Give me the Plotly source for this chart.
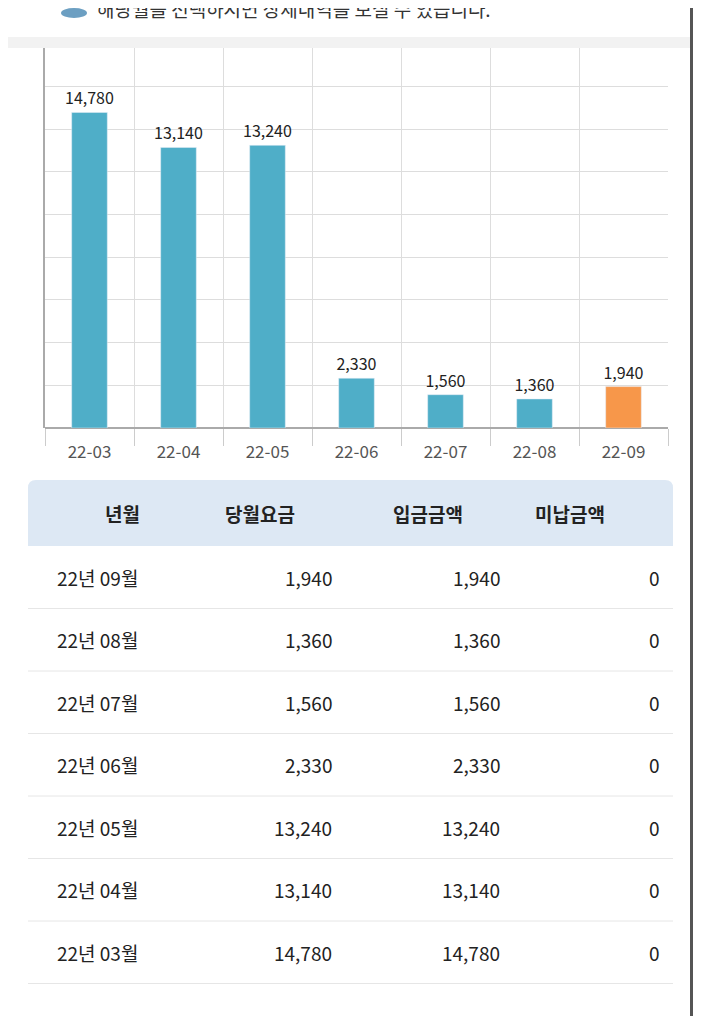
import plotly.graph_objects as go

months = ["22-03", "22-04", "22-05", "22-06", "22-07", "22-08", "22-09"]
charges = [14780, 13140, 13240, 2330, 1560, 1360, 1940]
bar_colors = ["#4faec8"] * 6 + ["#f7974a"]

headers = ["년월", "당월요금", "입금금액", "미납금액"]
row_months = ["22년 09월", "22년 08월", "22년 07월", "22년 06월", "22년 05월", "22년 04월", "22년 03월"]
row_charge = ["1,940", "1,360", "1,560", "2,330", "13,240", "13,140", "14,780"]
row_paid = ["1,940", "1,360", "1,560", "2,330", "13,240", "13,140", "14,780"]
row_unpaid = ["0", "0", "0", "0", "0", "0", "0"]

OFF = 8
W, H = 701 - 2 * OFF, 1024 - 2 * OFF
def px(x): return (x - OFF) / W
def py(y): return 1 - (y - OFF) / H

FONT = "Noto Sans CJK KR"
fig = go.Figure()
fig.add_trace(go.Bar(x=list(range(len(months))), y=charges, marker_color=bar_colors,
                     width=0.4, text=[f"{v:,}" for v in charges], textposition="outside",
                     constraintext="none",
                     textfont=dict(size=16, color="#222"), cliponaxis=False))
fig.add_trace(go.Scatter(x=[-0.5, 6.5], y=[0, 0], xaxis="x2", mode="lines",
                         line=dict(width=0), hoverinfo="skip", showlegend=False))

fig.update_layout(
    width=W, height=H, margin=dict(l=0, r=0, t=0, b=0), showlegend=False,
    paper_bgcolor="white", plot_bgcolor="white", font=dict(family=FONT),
    xaxis=dict(domain=[px(45), px(668)], range=[-0.5, 6.5], tickvals=list(range(7)),
               ticktext=months, showgrid=False, ticks="", tickfont=dict(size=17, color="#555"),
               ticklabelstandoff=12, anchor="y"),
    xaxis2=dict(domain=[px(45), px(668)], range=[-0.5, 6.5], overlaying="x", anchor="y",
                tickvals=[i - 0.5 for i in range(8)], showticklabels=False, showgrid=True,
                gridcolor="#dddddd", ticks="outside", ticklen=17, tickcolor="#cccccc", zeroline=False),
    yaxis=dict(domain=[py(428), py(48)], range=[0, 17800], dtick=2000, showticklabels=False,
               gridcolor="#dddddd", zeroline=True, zerolinecolor="#aaaaaa", zerolinewidth=2,
               showline=True, linecolor="#aaaaaa", linewidth=2),
)

shapes = []
ann = []
shapes.append(dict(type="rect", xref="paper", yref="paper", x0=px(0), x1=px(690), y0=py(48), y1=py(37),
                   fillcolor="#f2f2f2", line_width=0, layer="below"))
shapes.append(dict(type="circle", xref="paper", yref="paper", x0=px(61), x1=px(87), y0=py(18), y1=py(8),
                   fillcolor="#6c9fc2", line_width=0))
ann.append(dict(text="해당월을 선택하시면 상세내역을 보실 수 있습니다.", x=px(95), y=py(8), xref="paper", yref="paper",
                xanchor="left", yanchor="middle", showarrow=False, font=dict(size=19, color="#333")))
shapes.append(dict(type="rect", xref="paper", yref="paper", x0=px(690), x1=px(695), y0=0, y1=1,
                   fillcolor="#555555", line_width=0))
shapes.append(dict(type="path", xref="paper", yref="paper",
                   path=f"M {px(28)},{py(546)} L {px(28)},{py(488)} Q {px(28)},{py(480)} {px(36)},{py(480)} "
                        f"L {px(665)},{py(480)} Q {px(673)},{py(480)} {px(673)},{py(488)} L {px(673)},{py(546)} Z",
                   fillcolor="#dde8f4", line_width=0))
hx = [103, 260, 428, 607]
for h, x in zip(headers, hx):
    ann.append(dict(text=f"<b>{h}</b>", x=px(x), y=py(513), xref="paper", yref="paper",
                    yanchor="middle", showarrow=False, font=dict(size=19, color="#222")))
row_h = 62.5
for i in range(len(row_months)):
    yc = 577 + i * row_h
    yb = 546 + (i + 1) * row_h
    shapes.append(dict(type="line", xref="paper", yref="paper", x0=px(28), x1=px(673), y0=py(yb), y1=py(yb),
                       line=dict(color="#e6e6e6", width=1)))
    for txt, x, anc in [(row_months[i], 55, "left"), (row_charge[i], 334, "right"),
                        (row_paid[i], 502, "right"), (row_unpaid[i], 662, "right")]:
        ann.append(dict(text=txt, x=px(x), y=py(yc), xref="paper", yref="paper", xanchor=anc,
                        yanchor="middle", showarrow=False, font=dict(size=19, color="#222")))
fig.update_layout(shapes=shapes, annotations=ann)
fig.write_html("out.html")
